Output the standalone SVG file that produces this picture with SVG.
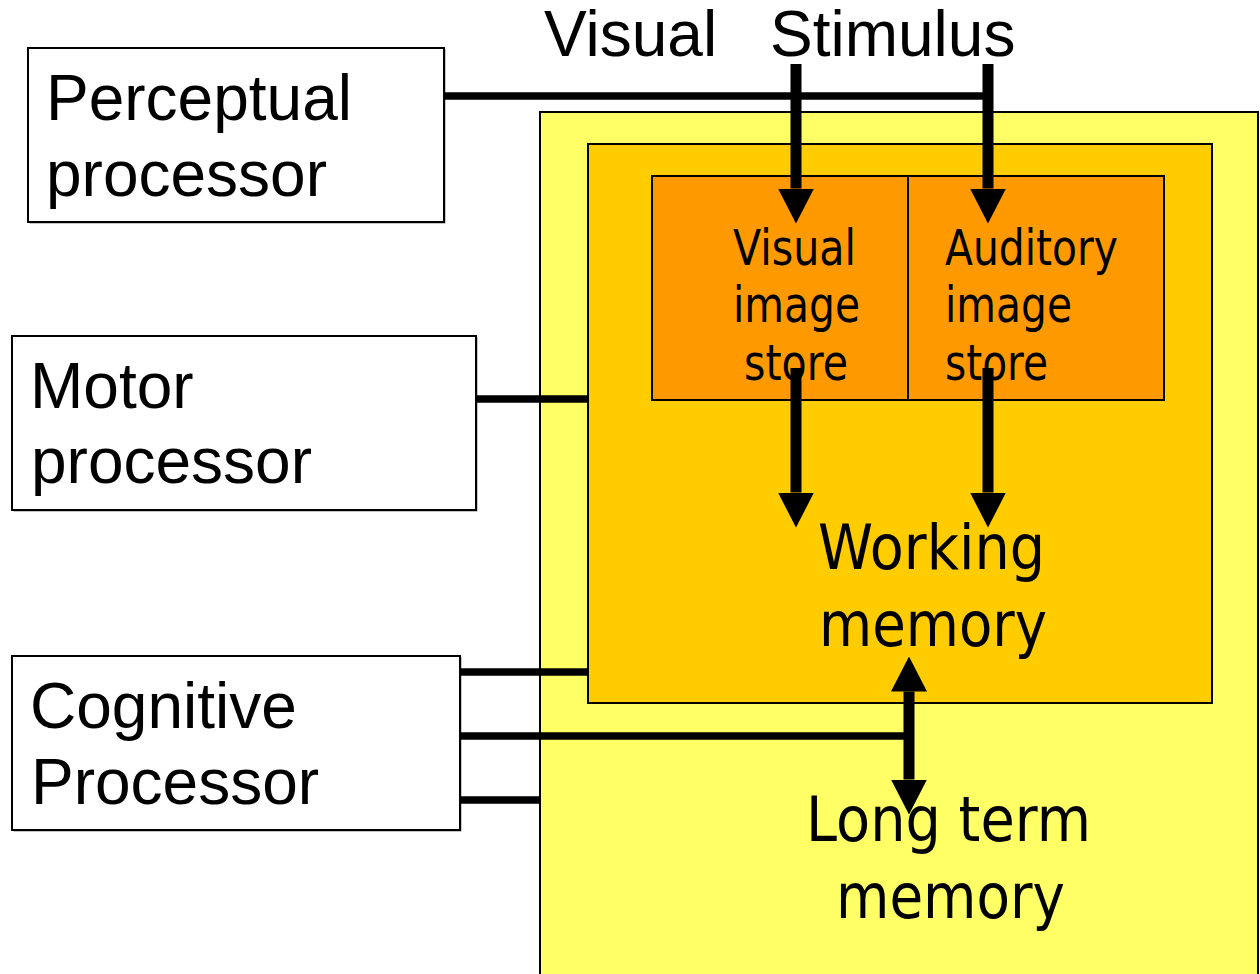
<svg xmlns="http://www.w3.org/2000/svg" width="1260" height="974" viewBox="0 0 1260 974">
  <style>
    .proc { fill: #ffffff; stroke: #000000; stroke-width: 2; }
    .shadow { fill: #8a8a8a; }
    .ltm { fill: #ffff66; stroke: #000000; stroke-width: 2; }
    .wm { fill: #ffcc00; stroke: #000000; stroke-width: 2; }
    .store { fill: #ff9900; stroke: #000000; stroke-width: 2; }
    .outer-label { font-family: "Liberation Sans", Arial, sans-serif; font-size: 64px; fill: #000000; }
    .inner-label { font-family: "DejaVu Sans", Verdana, sans-serif; fill: #000000; }
    .link { stroke: #000000; stroke-width: 7.5; fill: none; }
    .arrow { stroke: #000000; stroke-width: 11; fill: none; }
  </style>
  <defs>
    <marker id="head" markerUnits="userSpaceOnUse" viewBox="0 0 35 36" markerWidth="35" markerHeight="36" refX="0" refY="18" orient="auto-start-reverse">
      <path d="M0,0 L35,18 L0,36 Z" fill="#000000"/>
    </marker>
  </defs>

  <rect width="1260" height="974" fill="#ffffff"/>

  <!-- Long term memory (outermost store) -->
  <g id="long-term-memory">
    <rect class="ltm" x="540" y="112" width="718" height="880"/>
    <text class="inner-label" font-size="63" x="806" y="841" textLength="285" lengthAdjust="spacingAndGlyphs">Long term</text>
    <text class="inner-label" font-size="63" x="836" y="918" textLength="229" lengthAdjust="spacingAndGlyphs">memory</text>
  </g>

  <!-- Working memory -->
  <g id="working-memory">
    <rect class="wm" x="588" y="144" width="624" height="559"/>
    <text class="inner-label" font-size="63" x="818" y="569" textLength="227" lengthAdjust="spacingAndGlyphs">Working</text>
    <text class="inner-label" font-size="63" x="819" y="646" textLength="228" lengthAdjust="spacingAndGlyphs">memory</text>
  </g>

  <!-- Sensory image stores -->
  <g id="visual-image-store">
    <rect class="store" x="652" y="176" width="256" height="224"/>
    <text class="inner-label" font-size="49" x="733" y="265" textLength="123" lengthAdjust="spacingAndGlyphs">Visual</text>
    <text class="inner-label" font-size="49" x="733" y="322" textLength="127" lengthAdjust="spacingAndGlyphs">image</text>
    <text class="inner-label" font-size="49" x="744" y="380" textLength="104" lengthAdjust="spacingAndGlyphs">store</text>
  </g>
  <g id="auditory-image-store">
    <rect class="store" x="908" y="176" width="256" height="224"/>
    <text class="inner-label" font-size="49" x="945" y="265" textLength="173" lengthAdjust="spacingAndGlyphs">Auditory</text>
    <text class="inner-label" font-size="49" x="945" y="322" textLength="127" lengthAdjust="spacingAndGlyphs">image</text>
    <text class="inner-label" font-size="49" x="945" y="380" textLength="103" lengthAdjust="spacingAndGlyphs">store</text>
  </g>

  <!-- Processors -->
  <g id="perceptual-processor">
    <rect class="shadow" x="29.5" y="49.5" width="416" height="174"/>
    <rect class="proc" x="28" y="48" width="416" height="174"/>
    <text class="outer-label" x="46" y="120">Perceptual</text>
    <text class="outer-label" x="46" y="196">processor</text>
  </g>
  <g id="motor-processor">
    <rect class="shadow" x="13.5" y="337.5" width="464" height="174"/>
    <rect class="proc" x="12" y="336" width="464" height="174"/>
    <text class="outer-label" x="30" y="408">Motor</text>
    <text class="outer-label" x="31" y="483">processor</text>
  </g>
  <g id="cognitive-processor">
    <rect class="shadow" x="13.5" y="657.5" width="448" height="174"/>
    <rect class="proc" x="12" y="656" width="448" height="174"/>
    <text class="outer-label" x="30" y="728">Cognitive</text>
    <text class="outer-label" x="31" y="804">Processor</text>
  </g>

  <!-- Stimulus label -->
  <g id="visual-stimulus">
    <text class="outer-label" x="544" y="56">Visual</text>
    <text class="outer-label" x="770" y="56">Stimulus</text>
  </g>

  <!-- Connectors -->
  <g id="connectors">
    <line class="link" x1="444" y1="96" x2="988" y2="96"/>
    <line class="link" x1="476" y1="399" x2="588" y2="399"/>
    <line class="link" x1="460" y1="672" x2="588" y2="672"/>
    <line class="link" x1="460" y1="736" x2="909" y2="736"/>
    <line class="link" x1="460" y1="800" x2="540" y2="800"/>

    <line class="arrow" x1="796" y1="64" x2="796" y2="188.5" marker-end="url(#head)"/>
    <line class="arrow" x1="988" y1="64" x2="988" y2="188.5" marker-end="url(#head)"/>
    <line class="arrow" x1="796" y1="368" x2="796" y2="492.5" marker-end="url(#head)"/>
    <line class="arrow" x1="988" y1="368" x2="988" y2="492.5" marker-end="url(#head)"/>
    <line class="arrow" x1="909" y1="691.5" x2="909" y2="779.5" marker-start="url(#head)" marker-end="url(#head)"/>
  </g>
</svg>
